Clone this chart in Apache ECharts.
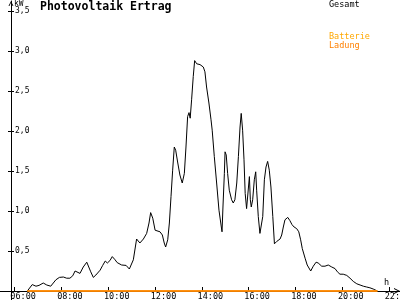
<!DOCTYPE html>
<html>
<head>
<meta charset="utf-8">
<script src="https://cdn.jsdelivr.net/npm/echarts@6/dist/echarts.min.js"></script>
<style>html,body{margin:0;padding:0;background:#fff}#c{width:400px;height:300px}</style>
</head>
<body>
<div id="c"></div>
<script>
// ---- data ----
const xTickHours = [6, 8, 10, 12, 14, 16, 18, 20, 22];
const xTickLabels = ['06:00', '08:00', '10:00', '12:00', '14:00', '16:00', '18:00', '20:00', '22:00'];
const yTickValues = [0.5, 1, 1.5, 2, 2.5, 3, 3.5];
const yTickLabels = ['0,5', '1,0', '1,5', '2,0', '2,5', '3,0', '3,5'];
const seriesNames = ['Gesamt', 'Batterie', 'Ladung'];

// time in decimal hours, power in kW
const gesamtTime = [6.54, 6.75, 6.91, 7.04, 7.22, 7.37, 7.54, 7.62, 7.76, 7.91, 8.08, 8.22, 8.36, 8.48, 8.58, 8.65, 8.79, 8.93, 9.08, 9.15,
  9.25, 9.36, 9.47, 9.65, 9.76, 9.87, 9.96, 10.07, 10.17, 10.29, 10.38, 10.57, 10.76, 10.90, 11.07, 11.21, 11.35, 11.50, 11.64, 11.74,
  11.81, 11.90, 12.00, 12.07, 12.21, 12.31, 12.39, 12.45, 12.54, 12.61, 12.68, 12.75, 12.82, 12.88, 12.97, 13.06, 13.16, 13.25, 13.32, 13.39,
  13.45, 13.50, 13.56, 13.63, 13.69, 13.78, 13.92, 14.06, 14.13, 14.20, 14.30, 14.39, 14.44, 14.53, 14.63, 14.73, 14.83, 14.86, 14.90, 14.96,
  14.99, 15.04, 15.10, 15.17, 15.27, 15.34, 15.41, 15.49, 15.56, 15.63, 15.68, 15.74, 15.80, 15.85, 15.91, 15.97, 16.03, 16.07, 16.11, 16.17,
  16.24, 16.30, 16.34, 16.41, 16.48, 16.54, 16.60, 16.67, 16.74, 16.81, 16.88, 16.95, 17.03, 17.10, 17.20, 17.34, 17.41, 17.48, 17.55, 17.67,
  17.76, 17.85, 17.94, 18.05, 18.14, 18.22, 18.29, 18.41, 18.50, 18.65, 18.76, 18.88, 18.97, 19.12, 19.26, 19.40, 19.55, 19.69, 19.79, 19.90,
  20.04, 20.19, 20.33, 20.47, 20.62, 20.76, 20.90, 21.04, 21.18, 21.32, 21.50];
const gesamtKW = [0, 0.08, 0.06, 0.07, 0.10, 0.075, 0.06, 0.08, 0.14, 0.17, 0.175, 0.16, 0.16, 0.19, 0.25, 0.23, 0.22, 0.30, 0.36, 0.34,
  0.24, 0.17, 0.20, 0.26, 0.32, 0.375, 0.35, 0.38, 0.43, 0.39, 0.355, 0.325, 0.32, 0.275, 0.39, 0.65, 0.60, 0.65, 0.72, 0.85,
  0.98, 0.91, 0.76, 0.74, 0.74, 0.70, 0.60, 0.55, 0.64, 0.85, 1.18, 1.51, 1.80, 1.76, 1.60, 1.45, 1.35, 1.47, 1.80, 2.18,
  2.23, 2.16, 2.39, 2.68, 2.88, 2.84, 2.83, 2.80, 2.74, 2.55, 2.35, 2.14, 2.01, 1.68, 1.35, 1.01, 0.80, 0.74, 1.05, 1.47,
  1.74, 1.70, 1.47, 1.26, 1.14, 1.10, 1.14, 1.35, 1.68, 2.05, 2.22, 2.01, 1.64, 1.22, 1.03, 1.05, 1.43, 1.14, 1.05, 1.14,
  1.39, 1.49, 1.26, 0.93, 0.72, 0.71, 0.93, 1.39, 1.55, 1.62, 1.51, 1.30, 0.93, 0.59, 0.62, 0.65, 0.70, 0.80, 0.89, 0.92,
  0.88, 0.83, 0.80, 0.78, 0.74, 0.64, 0.53, 0.41, 0.325, 0.25, 0.31, 0.36, 0.35, 0.31, 0.31, 0.325, 0.30, 0.28, 0.24, 0.21,
  0.21, 0.195, 0.16, 0.12, 0.09, 0.075, 0.06, 0.05, 0.04, 0.025, 0];
const batterieTime = [6.54, 21.50];
const batterieKW = [0, 0];
const ladungTime = [6.54, 21.50];
const ladungKW = [0, 0];

// ---- chart ----
const FONT = 'DejaVu Sans Mono';
const LABEL_SHIFT = 0.36; // hours, labels sit slightly right of their tick
const chevron = 'path://M0,10 L5,0 L10,10 L8.2,10 L5,3.6 L1.8,10 Z';
const zip = (t, v) => t.map((x, i) => [x, v[i]]);

const chart = echarts.init(document.getElementById('c'), null, {renderer: 'canvas'});
chart.setOption({
  animation: false,
  backgroundColor: '#ffffff',
  title: {
    text: 'Photovoltaik Ertrag', left: 40, top: 1, padding: 0,
    textStyle: {fontFamily: FONT, fontWeight: 'bold', fontSize: 11.5, color: '#000'}
  },
  legend: [
    {
      data: [{name: seriesNames[0], textStyle: {color: '#000000'}}],
      left: 324, top: 0.5, padding: 0, icon: 'none', itemWidth: 0, itemHeight: 8, itemGap: 0,
      selectedMode: false, textStyle: {fontFamily: FONT, fontSize: 8.5}
    },
    {
      data: [{name: seriesNames[1], textStyle: {color: '#ffa800'}}, {name: seriesNames[2], textStyle: {color: '#ff8000'}}],
      orient: 'vertical', left: 324, top: 32, padding: 0, icon: 'none', itemWidth: 0, itemHeight: 8, itemGap: 0,
      selectedMode: false, textStyle: {fontFamily: FONT, fontSize: 8.5}
    }
  ],
  grid: {left: 0, right: 0, top: 1, bottom: 0, containLabel: false, outerBoundsMode: 'none'},
  xAxis: {
    type: 'value', min: 5.372, max: 22.466,
    name: 'h', nameLocation: 'end', nameGap: -16, nameMoveOverlap: false,
    nameTextStyle: {fontFamily: FONT, fontSize: 8.5, color: '#000', verticalAlign: 'bottom', align: 'left', padding: [0, 0, 4, 0]},
    axisLine: {show: true, onZero: true, lineStyle: {color: '#000', width: 1},
      symbol: ['none', chevron], symbolSize: [6, 6], symbolOffset: [0, -3]},
    axisTick: {show: true, customValues: xTickHours, inside: true, length: 4, lineStyle: {color: '#000'}},
    axisLabel: {
      show: true, customValues: xTickHours.map(h => h + LABEL_SHIFT), margin: -8,
      fontFamily: FONT, fontSize: 8.5, color: '#000',
      formatter: v => xTickLabels[xTickHours.indexOf(Math.round(v - LABEL_SHIFT))] || ''
    },
    splitLine: {show: false}
  },
  yAxis: [
    {
      type: 'value', min: -0.1125, max: 3.625, position: 'left', offset: -11,
      name: 'kW', nameLocation: 'end', nameGap: -3, nameMoveOverlap: false,
      nameTextStyle: {fontFamily: FONT, fontSize: 8, color: '#000', align: 'left', verticalAlign: 'middle', padding: [0, 0, 0, 3]},
      axisLine: {show: true, onZero: false, lineStyle: {color: '#000', width: 1},
        symbol: ['none', chevron], symbolSize: [6, 5], symbolOffset: [0, -2.5]},
      axisTick: {show: true, customValues: yTickValues, inside: true, length: 3, lineStyle: {color: '#000'}},
      axisLabel: {
        show: true, inside: true, customValues: yTickValues, margin: 4,
        fontFamily: FONT, fontSize: 8, color: '#000', align: 'left', verticalAlign: 'middle',
        formatter: v => yTickLabels[yTickValues.indexOf(Math.round(v * 2) / 2)] || ''
      },
      splitLine: {show: false}
    },
    {
      type: 'value', min: -0.1125, max: 3.625, position: 'left', offset: -11,
      axisLine: {show: false, onZero: false},
      axisTick: {show: true, customValues: yTickValues, inside: false, length: 3, lineStyle: {color: '#000'}},
      axisLabel: {show: false},
      splitLine: {show: false}
    }
  ],
  series: [
    {
      name: seriesNames[0], type: 'line', data: zip(gesamtTime, gesamtKW),
      showSymbol: false, symbol: 'none', smooth: false, color: '#000',
      lineStyle: {color: '#000', width: 1}, z: 2
    },
    {
      name: seriesNames[1], type: 'line', data: zip(batterieTime, batterieKW),
      showSymbol: false, symbol: 'none', color: '#ffa800',
      lineStyle: {color: '#ffa800', width: 1.3}, z: 3
    },
    {
      name: seriesNames[2], type: 'line', data: zip(ladungTime, ladungKW),
      showSymbol: false, symbol: 'none', color: '#ff8000',
      lineStyle: {color: '#ff8000', width: 1.3}, z: 4
    }
  ]
});
</script>
</body>
</html>
